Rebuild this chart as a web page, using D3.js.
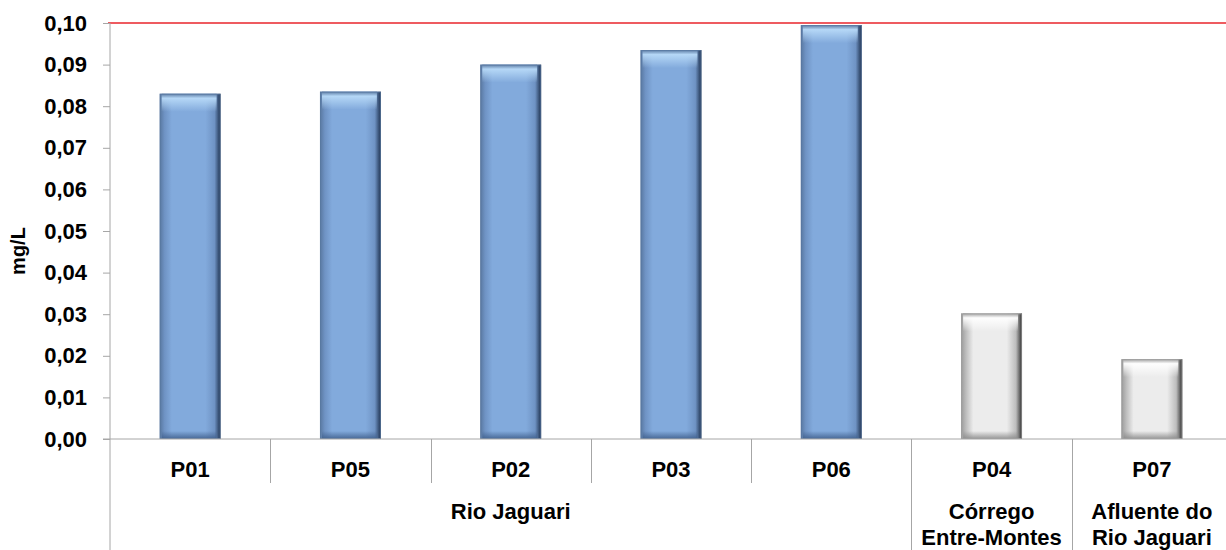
<!DOCTYPE html>
<html>
<head>
<meta charset="utf-8">
<script src="https://cdn.jsdelivr.net/npm/d3@7"></script>
<style>
  html, body { margin: 0; padding: 0; background: #fff; }
  svg { display: block; font-family: "Liberation Sans", Arial, sans-serif; }
</style>
</head>
<body>
<svg id="chart" width="1226" height="550"></svg>
<script>
// Sampling points and measured concentration (mg/L)
const points = ["P01", "P05", "P02", "P03", "P06", "P04", "P07"];
const values = [0.083, 0.0835, 0.090, 0.0935, 0.0995, 0.0302, 0.0192];
// Water body each point belongs to
const groups = ["Rio Jaguari", "Rio Jaguari", "Rio Jaguari", "Rio Jaguari", "Rio Jaguari",
                "Córrego\nEntre-Montes", "Afluente do\nRio Jaguari"];
const barStyle = ["blue", "blue", "blue", "blue", "blue", "gray", "gray"];
const yTicks = [0, 0.01, 0.02, 0.03, 0.04, 0.05, 0.06, 0.07, 0.08, 0.09, 0.10];
const limitValue = 0.10;
const yLabel = "mg/L";

const svg = d3.select("#chart");
const W = 1226, H = 550;
const m = { left: 110, top: 23, bottom: 439, right: 1232 };
const FS = 22;

const x = d3.scaleBand().domain(points).range([m.left, m.right]).paddingInner(0).paddingOuter(0);
const y = d3.scaleLinear().domain([0, 0.10]).range([m.bottom, m.top]);
const barW = x.bandwidth() * 0.38;

const fmt = v => d3.format(".2f")(v).replace(".", ",");

// Gradients for the bevelled bars
const defs = svg.append("defs");
const palettes = {
  blue: { l: "#6f93c4", c: "#82aadc", r: "#1d304d", hi: "#b8daf8", lo: "#3f5f8c", edge: "#58779f" },
  gray: { l: "#bdbdbd", c: "#ececec", r: "#2e2e2e", hi: "#ffffff", lo: "#8a8a8a", edge: "#9a9a9a" }
};
Object.entries(palettes).forEach(([k, p]) => {
  const h = defs.append("linearGradient").attr("id", "h-" + k).attr("x1", 0).attr("x2", 1).attr("y1", 0).attr("y2", 0);
  h.append("stop").attr("offset", "0").attr("stop-color", p.edge);
  h.append("stop").attr("offset", "0.08").attr("stop-color", p.l);
  h.append("stop").attr("offset", "0.2").attr("stop-color", p.c);
  h.append("stop").attr("offset", "0.75").attr("stop-color", p.c);
  h.append("stop").attr("offset", "0.9").attr("stop-color", p.l);
  h.append("stop").attr("offset", "1").attr("stop-color", p.r);
  const t = defs.append("linearGradient").attr("id", "t-" + k).attr("x1", 0).attr("x2", 0).attr("y1", 0).attr("y2", 1);
  t.append("stop").attr("offset", "0").attr("stop-color", p.edge).attr("stop-opacity", 0.9);
  t.append("stop").attr("offset", "0.25").attr("stop-color", p.hi).attr("stop-opacity", 0.95);
  t.append("stop").attr("offset", "1").attr("stop-color", p.hi).attr("stop-opacity", 0);
  const b = defs.append("linearGradient").attr("id", "b-" + k).attr("x1", 0).attr("x2", 0).attr("y1", 0).attr("y2", 1);
  b.append("stop").attr("offset", "0").attr("stop-color", p.lo).attr("stop-opacity", 0);
  b.append("stop").attr("offset", "1").attr("stop-color", p.lo).attr("stop-opacity", 0.9);
});

// Bars
const bars = svg.append("g").selectAll("g").data(points).join("g");
bars.each(function (p, i) {
  const g = d3.select(this);
  const k = barStyle[i];
  const x0 = x(p) + (x.bandwidth() - barW) / 2;
  const y0 = y(values[i]);
  const h = y(0) - y0;
  g.append("rect").attr("x", x0).attr("y", y0).attr("width", barW).attr("height", h)
    .attr("fill", `url(#h-${k})`);
  g.append("rect").attr("x", x0 + 2).attr("y", y0).attr("width", barW - 6).attr("height", Math.min(18, h / 2))
    .attr("fill", `url(#t-${k})`);
  g.append("rect").attr("x", x0 + 2).attr("y", y(0) - Math.min(8, h / 3)).attr("width", barW - 6).attr("height", Math.min(8, h / 3))
    .attr("fill", `url(#b-${k})`);
  g.append("rect").attr("x", x0 + 0.5).attr("y", y0 + 0.5).attr("width", barW - 1).attr("height", h - 1)
    .attr("fill", "none").attr("stroke", palettes[k].edge).attr("stroke-width", 1).attr("stroke-opacity", 0.7);
});

// Reference limit line
svg.append("line")
  .attr("x1", m.left - 2).attr("x2", W)
  .attr("y1", y(limitValue)).attr("y2", y(limitValue))
  .attr("stroke", "#e8252b").attr("stroke-width", 1.5);

// Y axis
const yAxis = svg.append("g").attr("transform", `translate(${m.left},0)`)
  .call(d3.axisLeft(y).tickValues(yTicks).tickFormat(fmt).tickSize(7).tickPadding(16));
yAxis.select(".domain").attr("stroke", "#a6a6a6").attr("d", `M0,${y(0.10)}V${y(0)}`);
yAxis.selectAll(".tick line").attr("stroke", "#a6a6a6");
yAxis.selectAll(".tick text").attr("font-size", FS).attr("font-weight", "bold").attr("fill", "#000")
  .attr("font-family", "Liberation Sans, Arial, sans-serif");

// Left axis line continues through the category labels
svg.append("line").attr("x1", m.left).attr("x2", m.left).attr("y1", y(0)).attr("y2", H)
  .attr("stroke", "#a6a6a6");

// Y axis title
svg.append("text")
  .attr("transform", `translate(25,251) rotate(-90)`)
  .attr("text-anchor", "middle").attr("font-size", 20).attr("font-weight", "bold").text(yLabel);

// X baseline
svg.append("line").attr("x1", m.left - 7).attr("x2", W).attr("y1", y(0)).attr("y2", y(0))
  .attr("stroke", "#a6a6a6");

// Category separators: short inside a group, full height between groups
points.forEach((p, i) => {
  if (i === 0) return;
  const bx = Math.round(x(p)) + 0.5;
  const full = groups[i] !== groups[i - 1];
  svg.append("line").attr("x1", bx).attr("x2", bx)
    .attr("y1", y(0)).attr("y2", full ? H : 483)
    .attr("stroke", "#a6a6a6");
});

// Point labels
svg.append("g").selectAll("text").data(points).join("text")
  .attr("x", d => x(d) + x.bandwidth() / 2)
  .attr("y", 477)
  .attr("text-anchor", "middle").attr("font-size", FS).attr("font-weight", "bold")
  .text(d => d);

// Group labels, centred across their points
const groupSpans = [];
groups.forEach((g, i) => {
  const last = groupSpans[groupSpans.length - 1];
  if (last && last.name === g) last.end = i;
  else groupSpans.push({ name: g, start: i, end: i });
});
groupSpans.forEach(s => {
  const cx = (x(points[s.start]) + x(points[s.end]) + x.bandwidth()) / 2;
  const t = svg.append("text").attr("text-anchor", "middle").attr("font-size", FS).attr("font-weight", "bold");
  s.name.split("\n").forEach((line, j) => {
    t.append("tspan").attr("x", cx).attr("y", 519 + j * 26).text(line);
  });
});
</script>
</body>
</html>
